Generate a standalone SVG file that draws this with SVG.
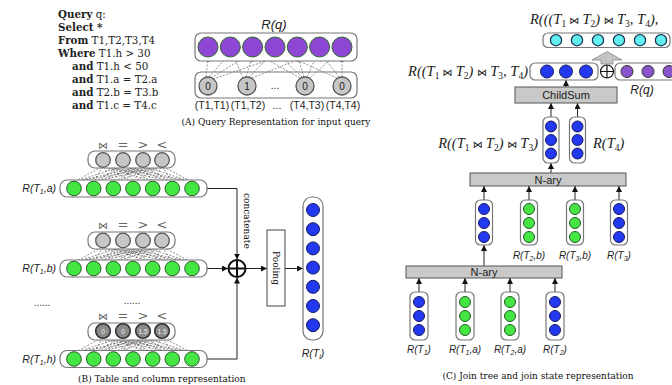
<svg xmlns="http://www.w3.org/2000/svg" xmlns:xlink="http://www.w3.org/1999/xlink" width="672" height="385" viewBox="0 0 672 385">
<style>
.q{font-family:"DejaVu Serif",serif;font-size:10.3px;fill:#222}
.b{font-weight:bold}
.cap{font-family:"DejaVu Serif",serif;font-size:9px;fill:#111}
.box{fill:#fff;stroke:#777;stroke-width:1.2}
.gbox{fill:#c9c9c9;stroke:#555;stroke-width:1}
.purple{fill:#8d47d4;stroke:#2f6a2a;stroke-width:1}
.vio{fill:#8a55cc;stroke:#333;stroke-width:1}
.gray{fill:#c6c6c6;stroke:#555;stroke-width:1.3}
.dgray{fill:#8a8a8a;stroke:#333;stroke-width:1.6}
.green{fill:#44e644;stroke:#2a5a2a;stroke-width:1}
.blue{fill:#2239f0;stroke:#1a1a60;stroke-width:1}
.cyan{fill:#62f0f0;stroke:#1a3a5a;stroke-width:1.3}
.dash{stroke:#444;stroke-width:0.6;stroke-dasharray:2 1.5;fill:none}
.line{stroke:#222;stroke-width:1;fill:none}
.sans{font-family:"Liberation Sans",Arial,sans-serif}
.it{font-family:"Liberation Sans",Arial,sans-serif;font-style:italic;fill:#222}
.math{font-family:"Liberation Serif","Times New Roman",serif;font-style:italic;font-size:14.5px;fill:#222}
.sub{font-size:9.5px;font-style:normal}
.ssub{font-size:7px}
.op{font-family:"DejaVu Sans",sans-serif;font-style:normal;font-size:10px}
.sym{font-family:"DejaVu Sans",sans-serif;fill:#666;text-anchor:middle}
.ctr{text-anchor:middle}
</style>
<defs>
<marker id="arr" viewBox="0 0 6 6" refX="6" refY="3" markerWidth="6" markerHeight="6" markerUnits="userSpaceOnUse" orient="auto"><path d="M0,0 L6,3 L0,6 z" fill="#111"/></marker>
<marker id="sarr" viewBox="0 0 6 6" refX="6" refY="3" markerWidth="4" markerHeight="4" markerUnits="userSpaceOnUse" orient="auto"><path d="M0,0 L6,3 L0,6 z" fill="#222"/></marker>
<path id="fan" class="dash" d="M101.3,7 L75.7,21 M102.4,7 L94.3,21 M103.6,7 L112.7,21 M104.8,7 L131.2,21 M106,7 L149.7,21 M107.2,7 L168.1,21 M108.3,7 L186.7,21 M120.1,7 L76.9,21 M121.2,7 L95.5,21 M122.4,7 L113.9,21 M123.6,7 L132.4,21 M124.8,7 L150.9,21 M126,7 L169.3,21 M127.1,7 L187.9,21 M138.9,7 L78.1,21 M140,7 L96.7,21 M141.2,7 L115.1,21 M142.4,7 L133.6,21 M143.6,7 L152.1,21 M144.8,7 L170.5,21 M145.9,7 L189.1,21 M156.7,7 L79.3,21 M157.9,7 L97.8,21 M159.1,7 L116.2,21 M160.3,7 L134.7,21 M161.4,7 L153.3,21 M162.6,7 L171.7,21 M163.8,7 L190.2,21"/>
<g id="greenrow">
<rect class="box" x="60" y="-8.5" width="147" height="17" rx="7"/>
<circle class="green" cx="74" cy="0" r="7.3"/><circle class="green" cx="93.7" cy="0" r="7.3"/><circle class="green" cx="113.3" cy="0" r="7.3"/><circle class="green" cx="133" cy="0" r="7.3"/><circle class="green" cx="152.7" cy="0" r="7.3"/><circle class="green" cx="172.3" cy="0" r="7.3"/><circle class="green" cx="192" cy="0" r="7.3"/>
</g>
<g id="syms">
<text class="sym" x="103" y="0" font-size="10">⋈</text><text class="sym" x="123" y="0" font-size="13">=</text><text class="sym" x="143" y="0" font-size="13">&gt;</text><text class="sym" x="162" y="0" font-size="13">&lt;</text>
</g>
</defs>

<!-- (A) query -->
<g id="query-text" class="q">
<text x="58" y="18"><tspan class="b">Query</tspan> q:</text>
<text x="58" y="31"><tspan class="b">Select *</tspan></text>
<text x="58" y="44"><tspan class="b">From</tspan> T1,T2,T3,T4</text>
<text x="58" y="57"><tspan class="b">Where</tspan> T1.h &gt; 30</text>
<text x="72" y="70"><tspan class="b">and</tspan> T1.h &lt; 50</text>
<text x="72" y="83"><tspan class="b">and</tspan> T1.a = T2.a</text>
<text x="72" y="96"><tspan class="b">and</tspan> T2.b = T3.b</text>
<text x="72" y="109"><tspan class="b">and</tspan> T1.c = T4.c</text>
</g>

<g id="connectors">
<!-- A dashed -->
<path class="dash" marker-end="url(#sarr)" d="M206,77 L208,57.5"/>
<path class="dash" marker-end="url(#sarr)" d="M209,77 L227,57"/>
<path class="dash" marker-end="url(#sarr)" d="M211,78 L247,56"/>
<path class="dash" marker-end="url(#sarr)" d="M213,79 L289,53"/>
<path class="dash" marker-end="url(#sarr)" d="M243,78 L234,57"/>
<path class="dash" marker-end="url(#sarr)" d="M246,77 L252,57.5"/>
<path class="dash" marker-end="url(#sarr)" d="M249,77 L270,56"/>
<path class="dash" marker-end="url(#sarr)" d="M252,78 L312,54"/>
<path class="dash" marker-end="url(#sarr)" d="M300,78 L259,55"/>
<path class="dash" marker-end="url(#sarr)" d="M302,77 L280,56"/>
<path class="dash" marker-end="url(#sarr)" d="M304,77 L298,57.5"/>
<path class="dash" marker-end="url(#sarr)" d="M307,77 L316,57"/>
<path class="dash" marker-end="url(#sarr)" d="M310,78 L335,55"/>
<path class="dash" marker-end="url(#sarr)" d="M337,78 L283,54"/>
<path class="dash" marker-end="url(#sarr)" d="M339,77 L323,56"/>
<path class="dash" marker-end="url(#sarr)" d="M342,77 L342,57.5"/>
<!-- B fans -->
<use xlink:href="#fan" href="#fan" transform="translate(0,160)"/>
<use xlink:href="#fan" href="#fan" transform="translate(0,240.5)"/>
<use xlink:href="#fan" href="#fan" transform="translate(0,331)"/>
<!-- B concatenation -->
<path class="line" marker-end="url(#arr)" d="M207,188.5 H237 V259.5"/>
<path class="line" marker-end="url(#arr)" d="M207,268.5 H228"/>
<path class="line" marker-end="url(#arr)" d="M207,359 H237 V277.5"/>
<path class="line" marker-end="url(#arr)" d="M246,268.5 H267"/>
<path class="line" marker-end="url(#arr)" d="M285,268.5 H303"/>
<!-- C arrows -->
<path class="line" marker-end="url(#arr)" d="M566,87 V80"/>
<path class="line" marker-end="url(#arr)" d="M551,117 V103"/>
<path class="line" marker-end="url(#arr)" d="M577.5,117 V103"/>
<path class="line" marker-end="url(#arr)" d="M551,173 V163"/>
<path class="line" marker-end="url(#arr)" d="M484,200 V186"/>
<path class="line" marker-end="url(#arr)" d="M529,200 V186"/>
<path class="line" marker-end="url(#arr)" d="M575,200 V186"/>
<path class="line" marker-end="url(#arr)" d="M619,200 V186"/>
<path class="line" marker-end="url(#arr)" d="M484,266 V245"/>
<path class="line" marker-end="url(#arr)" d="M419,292 V278"/>
<path class="line" marker-end="url(#arr)" d="M465,292 V278"/>
<path class="line" marker-end="url(#arr)" d="M510,292 V278"/>
<path class="line" marker-end="url(#arr)" d="M555,292 V278"/>
</g>

<g id="Rq-A">
<text class="it ctr" x="274" y="29" font-size="13">R(q)</text>
<rect class="box" x="195" y="33" width="162" height="28" rx="6"/>
<circle class="purple" cx="208" cy="47" r="10"/><circle class="purple" cx="230.3" cy="47" r="10"/><circle class="purple" cx="252.6" cy="47" r="10"/><circle class="purple" cx="275" cy="47" r="10"/><circle class="purple" cx="297.3" cy="47" r="10"/><circle class="purple" cx="319.6" cy="47" r="10"/><circle class="purple" cx="342" cy="47" r="10"/>
</g>
<g id="pairs-A">
<rect class="box" x="195" y="72" width="162" height="26" rx="6" style="fill:none"/>
<circle class="gray" cx="208" cy="86" r="9"/><circle class="gray" cx="247" cy="86" r="9"/><circle class="gray" cx="305" cy="86" r="9"/><circle class="gray" cx="342" cy="86" r="9"/>
<g class="sans ctr" font-size="10" fill="#222">
<text x="208" y="89.5">0</text><text x="247" y="89.5">1</text><text x="305" y="89.5">0</text><text x="342" y="89.5">0</text>
<text x="275" y="89">...</text>
</g>
<g class="sans ctr" font-size="10.5" fill="#222">
<text x="212" y="109">(T1,T1)</text><text x="248" y="109">(T1,T2)</text><text x="277" y="109">...</text><text x="307" y="109">(T4,T3)</text><text x="343" y="109">(T4,T4)</text>
</g>
</g>
<text class="cap ctr" x="276" y="125">(A) Query Representation for input query</text>

<!-- (B) -->
<g id="ops-a">
<use xlink:href="#syms" href="#syms" transform="translate(0,149)"/>
<rect class="box" x="88" y="151" width="87" height="17" rx="7"/>
<circle class="gray" cx="103" cy="160" r="7.3"/><circle class="gray" cx="123" cy="160" r="7.3"/><circle class="gray" cx="143" cy="160" r="7.3"/><circle class="gray" cx="162" cy="160" r="7.3"/>
</g>
<g id="row-a">
<use xlink:href="#greenrow" href="#greenrow" transform="translate(0,188.5)"/>
<text class="it" x="56" y="192" font-size="10.5" text-anchor="end">R(T<tspan class="ssub" dy="2">1</tspan><tspan dy="-2">,a)</tspan></text>
</g>
<g id="ops-b">
<use xlink:href="#syms" href="#syms" transform="translate(0,229)"/>
<rect class="box" x="88" y="232" width="87" height="17" rx="7"/>
<circle class="gray" cx="103" cy="240.5" r="7.3"/><circle class="gray" cx="123" cy="240.5" r="7.3"/><circle class="gray" cx="143" cy="240.5" r="7.3"/><circle class="gray" cx="162" cy="240.5" r="7.3"/>
</g>
<g id="row-b">
<use xlink:href="#greenrow" href="#greenrow" transform="translate(0,268.5)"/>
<text class="it" x="56" y="272" font-size="10.5" text-anchor="end">R(T<tspan class="ssub" dy="2">1</tspan><tspan dy="-2">,b)</tspan></text>
</g>
<g id="dots" class="sans ctr" font-size="10" fill="#333">
<text x="42" y="306">......</text><text x="132" y="304">......</text>
</g>
<g id="ops-h">
<use xlink:href="#syms" href="#syms" transform="translate(0,320)"/>
<rect class="box" x="88" y="323" width="87" height="17" rx="7"/>
<circle class="dgray" cx="103" cy="331" r="7.3"/><circle class="dgray" cx="123" cy="331" r="7.3"/><circle class="dgray" cx="143" cy="331" r="7.3"/><circle class="dgray" cx="162" cy="331" r="7.3"/>
<g class="sans ctr" font-size="6.5" fill="#eee">
<text x="103" y="333.5">0</text><text x="123" y="333.5">0</text><text x="143" y="333.5">1.5</text><text x="162" y="333.5">1.5</text>
</g>
</g>
<g id="row-h">
<use xlink:href="#greenrow" href="#greenrow" transform="translate(0,359)"/>
<text class="it" x="56" y="362.5" font-size="10.5" text-anchor="end">R(T<tspan class="ssub" dy="2">1</tspan><tspan dy="-2">,h)</tspan></text>
</g>
<g id="concat">
<circle cx="237" cy="268.5" r="8.5" fill="#fff" stroke="#111" stroke-width="2"/>
<path d="M228.5,268.5 H245.5 M237,260 V277" stroke="#111" stroke-width="2"/>
<text class="cap" transform="translate(244,193) rotate(90)" font-size="9">concatenate</text>
</g>
<g id="pooling">
<rect x="267" y="230" width="18" height="76" fill="#fff" stroke="#444" stroke-width="1"/>
<text class="cap ctr" transform="translate(273,268) rotate(90)" font-size="9.5">Pooling</text>
</g>
<g id="RTi">
<rect class="box" x="303" y="197" width="20" height="143" rx="9"/>
<circle class="blue" cx="313" cy="210" r="6.5"/><circle class="blue" cx="313" cy="229.2" r="6.5"/><circle class="blue" cx="313" cy="248.4" r="6.5"/><circle class="blue" cx="313" cy="267.6" r="6.5"/><circle class="blue" cx="313" cy="286.8" r="6.5"/><circle class="blue" cx="313" cy="306" r="6.5"/><circle class="blue" cx="313" cy="325.2" r="6.5"/>
<text class="it ctr" x="313" y="357" font-size="10.5">R(T<tspan class="ssub" dy="2">i</tspan><tspan dy="-2">)</tspan></text>
</g>
<text class="cap" x="78" y="382">(B) Table and column representation</text>

<!-- (C) -->
<g id="final-state">
<text class="math" x="530" y="24">R(((T<tspan class="sub" dy="3">1</tspan><tspan class="op" dy="-3"> ⋈ </tspan>T<tspan class="sub" dy="3">2</tspan><tspan dy="-3">) </tspan><tspan class="op">⋈ </tspan>T<tspan class="sub" dy="3">3</tspan><tspan dy="-3">, T</tspan><tspan class="sub" dy="3">4</tspan><tspan dy="-3">),</tspan></text>
<rect class="box" x="543" y="33" width="127" height="14.5" rx="5"/>
<circle class="cyan" cx="556" cy="40.2" r="5.6"/><circle class="cyan" cx="577" cy="40.2" r="5.6"/><circle class="cyan" cx="598" cy="40.2" r="5.6"/><circle class="cyan" cx="619" cy="40.2" r="5.6"/><circle class="cyan" cx="640" cy="40.2" r="5.6"/><circle class="cyan" cx="661" cy="40.2" r="5.6"/>
<path d="M607,51.5 L622,60 L613,60 L613,64 L601,64 L601,60 L592,60 z" fill="#c4c4c4" stroke="#888" stroke-width="0.8"/>
</g>
<g id="join-state">
<text class="math" x="528" y="76" text-anchor="end">R((T<tspan class="sub" dy="3">1</tspan><tspan class="op" dy="-3"> ⋈ </tspan>T<tspan class="sub" dy="3">2</tspan><tspan dy="-3">) </tspan><tspan class="op">⋈ </tspan>T<tspan class="sub" dy="3">3</tspan><tspan dy="-3">, T</tspan><tspan class="sub" dy="3">4</tspan><tspan dy="-3">)</tspan></text>
<rect class="box" x="530" y="63" width="68" height="17" rx="5"/>
<circle class="blue" cx="547" cy="71.5" r="6.5"/><circle class="blue" cx="566" cy="71.5" r="6.5"/><circle class="blue" cx="586" cy="71.5" r="6.5"/>
</g>
<g id="plus-C">
<circle cx="607" cy="71.5" r="6.5" fill="#fff" stroke="#111" stroke-width="1.2"/>
<path d="M600.5,71.5 H613.5 M607,65 V78" stroke="#111" stroke-width="1.2"/>
</g>
<g id="Rq-C">
<rect class="box" x="615" y="63" width="70" height="17" rx="5"/>
<circle class="vio" cx="627" cy="71.5" r="6"/><circle class="vio" cx="648" cy="71.5" r="6"/><circle class="vio" cx="669" cy="71.5" r="6"/>
<text class="it ctr" x="642" y="94" font-size="12">R(q)</text>
</g>
<g id="childsum">
<rect class="gbox" x="515" y="87" width="102" height="16"/>
<text class="sans ctr" x="566" y="99" font-size="11" fill="#222">ChildSum</text>
</g>
<g id="col-T123">
<rect class="box" x="543" y="117" width="16" height="46" rx="5"/>
<circle class="blue" cx="551" cy="126.5" r="5.5"/><circle class="blue" cx="551" cy="140" r="5.5"/><circle class="blue" cx="551" cy="153.5" r="5.5"/>
<text class="math" x="538" y="148" text-anchor="end">R((T<tspan class="sub" dy="3">1</tspan><tspan class="op" dy="-3"> ⋈ </tspan>T<tspan class="sub" dy="3">2</tspan><tspan dy="-3">) </tspan><tspan class="op">⋈ </tspan>T<tspan class="sub" dy="3">3</tspan><tspan dy="-3">)</tspan></text>
</g>
<g id="col-T4">
<rect class="box" x="569.5" y="117" width="16" height="46" rx="5"/>
<circle class="blue" cx="577.5" cy="126.5" r="5.5"/><circle class="blue" cx="577.5" cy="140" r="5.5"/><circle class="blue" cx="577.5" cy="153.5" r="5.5"/>
<text class="math" x="593" y="148">R(T<tspan class="sub" dy="3">4</tspan><tspan dy="-3">)</tspan></text>
</g>
<g id="nary1">
<rect class="gbox" x="470" y="173" width="156" height="13"/>
<text class="sans ctr" x="548" y="183.5" font-size="11" fill="#222">N-ary</text>
</g>
<g id="col-T12">
<rect class="box" x="475.5" y="200" width="17" height="45" rx="5"/>
<circle class="blue" cx="484" cy="209" r="5.5"/><circle class="blue" cx="484" cy="223" r="5.5"/><circle class="blue" cx="484" cy="237" r="5.5"/>
</g>
<g id="col-T2b">
<rect class="box" x="520.5" y="200" width="17" height="45" rx="5"/>
<circle class="green" cx="529" cy="209" r="5.5"/><circle class="green" cx="529" cy="223" r="5.5"/><circle class="green" cx="529" cy="237" r="5.5"/>
<text class="it ctr" x="529" y="259" font-size="10">R(T<tspan class="ssub" dy="2">2</tspan><tspan dy="-2">,b)</tspan></text>
</g>
<g id="col-T3b">
<rect class="box" x="566.5" y="200" width="17" height="45" rx="5"/>
<circle class="green" cx="575" cy="209" r="5.5"/><circle class="green" cx="575" cy="223" r="5.5"/><circle class="green" cx="575" cy="237" r="5.5"/>
<text class="it ctr" x="575" y="259" font-size="10">R(T<tspan class="ssub" dy="2">3</tspan><tspan dy="-2">,b)</tspan></text>
</g>
<g id="col-T3">
<rect class="box" x="610.5" y="200" width="17" height="45" rx="5"/>
<circle class="blue" cx="619" cy="209" r="5.5"/><circle class="blue" cx="619" cy="223" r="5.5"/><circle class="blue" cx="619" cy="237" r="5.5"/>
<text class="it ctr" x="619" y="259" font-size="10">R(T<tspan class="ssub" dy="2">3</tspan><tspan dy="-2">)</tspan></text>
</g>
<g id="nary2">
<rect class="gbox" x="406" y="266" width="156" height="12"/>
<text class="sans ctr" x="484" y="276" font-size="11" fill="#222">N-ary</text>
</g>
<g id="col-T1">
<rect class="box" x="410" y="292" width="18" height="48" rx="5"/>
<circle class="blue" cx="419" cy="302" r="5.5"/><circle class="blue" cx="419" cy="316" r="5.5"/><circle class="blue" cx="419" cy="330" r="5.5"/>
<text class="it ctr" x="419" y="353" font-size="10">R(T<tspan class="ssub" dy="2">1</tspan><tspan dy="-2">)</tspan></text>
</g>
<g id="col-T1a">
<rect class="box" x="456" y="292" width="18" height="48" rx="5"/>
<circle class="green" cx="465" cy="302" r="5.5"/><circle class="green" cx="465" cy="316" r="5.5"/><circle class="green" cx="465" cy="330" r="5.5"/>
<text class="it ctr" x="465" y="353" font-size="10">R(T<tspan class="ssub" dy="2">1</tspan><tspan dy="-2">,a)</tspan></text>
</g>
<g id="col-T2a">
<rect class="box" x="501" y="292" width="18" height="48" rx="5"/>
<circle class="green" cx="510" cy="302" r="5.5"/><circle class="green" cx="510" cy="316" r="5.5"/><circle class="green" cx="510" cy="330" r="5.5"/>
<text class="it ctr" x="510" y="353" font-size="10">R(T<tspan class="ssub" dy="2">2</tspan><tspan dy="-2">,a)</tspan></text>
</g>
<g id="col-T2">
<rect class="box" x="546" y="292" width="18" height="48" rx="5"/>
<circle class="blue" cx="555" cy="302" r="5.5"/><circle class="blue" cx="555" cy="316" r="5.5"/><circle class="blue" cx="555" cy="330" r="5.5"/>
<text class="it ctr" x="555" y="353" font-size="10">R(T<tspan class="ssub" dy="2">2</tspan><tspan dy="-2">)</tspan></text>
</g>
<text class="cap ctr" x="538" y="379">(C) Join tree and join state representation</text>
</svg>
